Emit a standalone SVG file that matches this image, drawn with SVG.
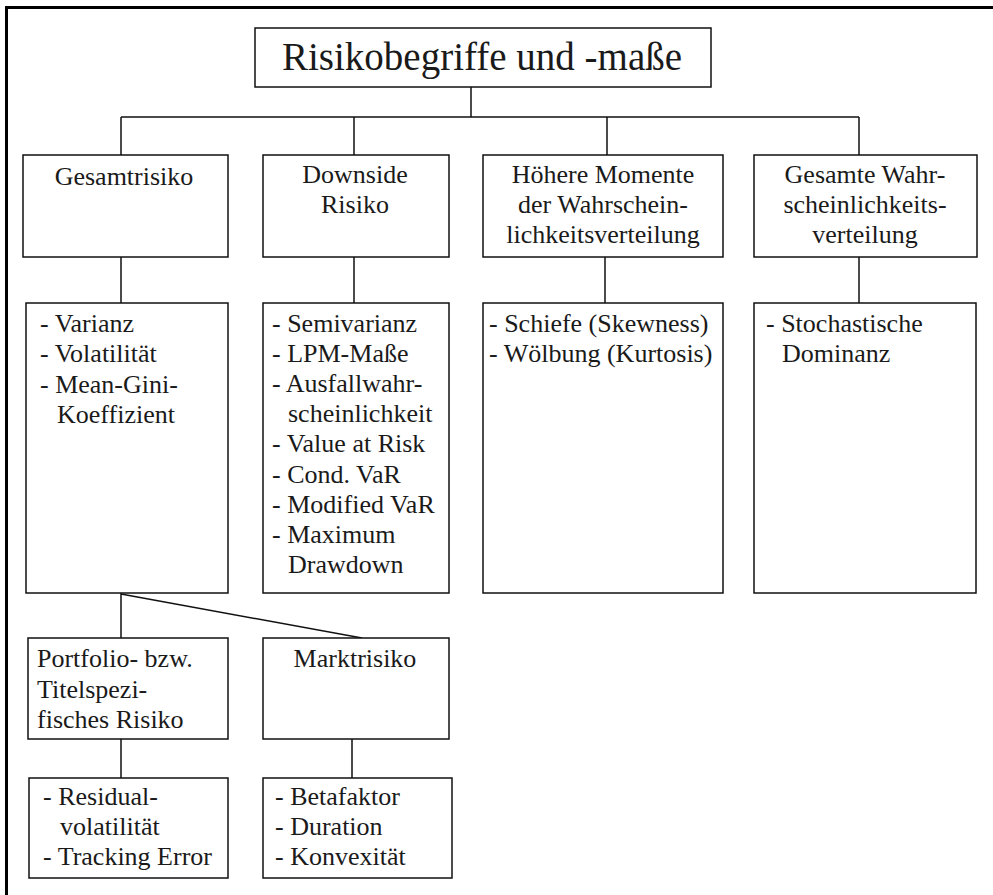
<svg xmlns="http://www.w3.org/2000/svg" width="993" height="895" viewBox="0 0 993 895">
<style>
.box{fill:#fff;stroke:#111;stroke-width:1.5}
.frame{fill:none;stroke:#000;stroke-width:3}
.con{fill:none;stroke:#111;stroke-width:1.5}
.c{text-anchor:middle}
</style>
<rect width="993" height="895" fill="#fff"/>
<rect class="frame" x="6.5" y="7.5" width="1000" height="900"/>
<g id="connectors">
<path class="con" d="M471 87V117M121 117H859M121 117V155M354 117V155M607 117V155M859 117V155"/>
<path class="con" d="M121 257V303M354 257V303M605 257V303M859 257V303"/>
<path class="con" d="M121 593V638M121 594L362 638"/>
<path class="con" d="M121 739V778M352 739V778"/>
</g>
<g font-family="Liberation Serif, Tinos, Times New Roman, DejaVu Serif, serif" font-size="26" fill="#1a1a1a">
<g id="root">
<rect class="box" x="255" y="28" width="456" height="59"/>
<text class="c" x="482" y="70" font-size="39">Risikobegriffe und -maße</text>
</g>
<g id="gesamtrisiko">
<rect class="box" x="23" y="155" width="205" height="102"/>
<text class="c" x="124" y="185">Gesamtrisiko</text>
</g>
<g id="downside">
<rect class="box" x="263" y="155" width="186" height="102"/>
<text class="c" x="355" y="183">Downside</text>
<text class="c" x="355" y="213">Risiko</text>
</g>
<g id="hoehere">
<rect class="box" x="483" y="155" width="240" height="102"/>
<text class="c" x="603" y="183">Höhere Momente</text>
<text class="c" x="603" y="213">der Wahrschein-</text>
<text class="c" x="603" y="243">lichkeitsverteilung</text>
</g>
<g id="gesamte">
<rect class="box" x="754" y="155" width="223" height="102"/>
<text class="c" x="865" y="183">Gesamte Wahr-</text>
<text class="c" x="865" y="213">scheinlichkeits-</text>
<text class="c" x="865" y="243">verteilung</text>
</g>
<g id="gesamt-mass">
<rect class="box" x="26" y="303" width="202" height="290"/>
<text x="40" y="332">- Varianz</text>
<text x="40" y="362">- Volatilität</text>
<text x="40" y="393">- Mean-Gini-</text>
<text x="57" y="423">Koeffizient</text>
</g>
<g id="downside-mass">
<rect class="box" x="263" y="303" width="186" height="290"/>
<text x="272" y="332">- Semivarianz</text>
<text x="272" y="362">- LPM-Maße</text>
<text x="272" y="392">- Ausfallwahr-</text>
<text x="288" y="422">scheinlichkeit</text>
<text x="272" y="452">- Value at Risk</text>
<text x="272" y="482.5">- Cond. VaR</text>
<text x="272" y="512.6">- Modified VaR</text>
<text x="272" y="542.7">- Maximum</text>
<text x="288" y="572.8">Drawdown</text>
</g>
<g id="momente-mass">
<rect class="box" x="483" y="303" width="240" height="290"/>
<text x="489" y="332">- Schiefe (Skewness)</text>
<text x="489" y="362">- Wölbung (Kurtosis)</text>
</g>
<g id="verteilung-mass">
<rect class="box" x="754" y="303" width="222" height="290"/>
<text x="766" y="332">- Stochastische</text>
<text x="782" y="362">Dominanz</text>
</g>
<g id="titelspezifisch">
<rect class="box" x="28" y="638" width="200" height="101"/>
<text x="37" y="667">Portfolio- bzw.</text>
<text x="37" y="698">Titelspezi-</text>
<text x="37" y="728">fisches Risiko</text>
</g>
<g id="marktrisiko">
<rect class="box" x="263" y="638" width="186" height="101"/>
<text class="c" x="355" y="667">Marktrisiko</text>
</g>
<g id="titel-mass">
<rect class="box" x="29" y="778" width="199" height="100"/>
<text x="43" y="805">- Residual-</text>
<text x="60" y="835">volatilität</text>
<text x="43" y="865">- Tracking Error</text>
</g>
<g id="markt-mass">
<rect class="box" x="263" y="778" width="189" height="100"/>
<text x="275" y="805">- Betafaktor</text>
<text x="275" y="835">- Duration</text>
<text x="275" y="865">- Konvexität</text>
</g>
</g>
</svg>
